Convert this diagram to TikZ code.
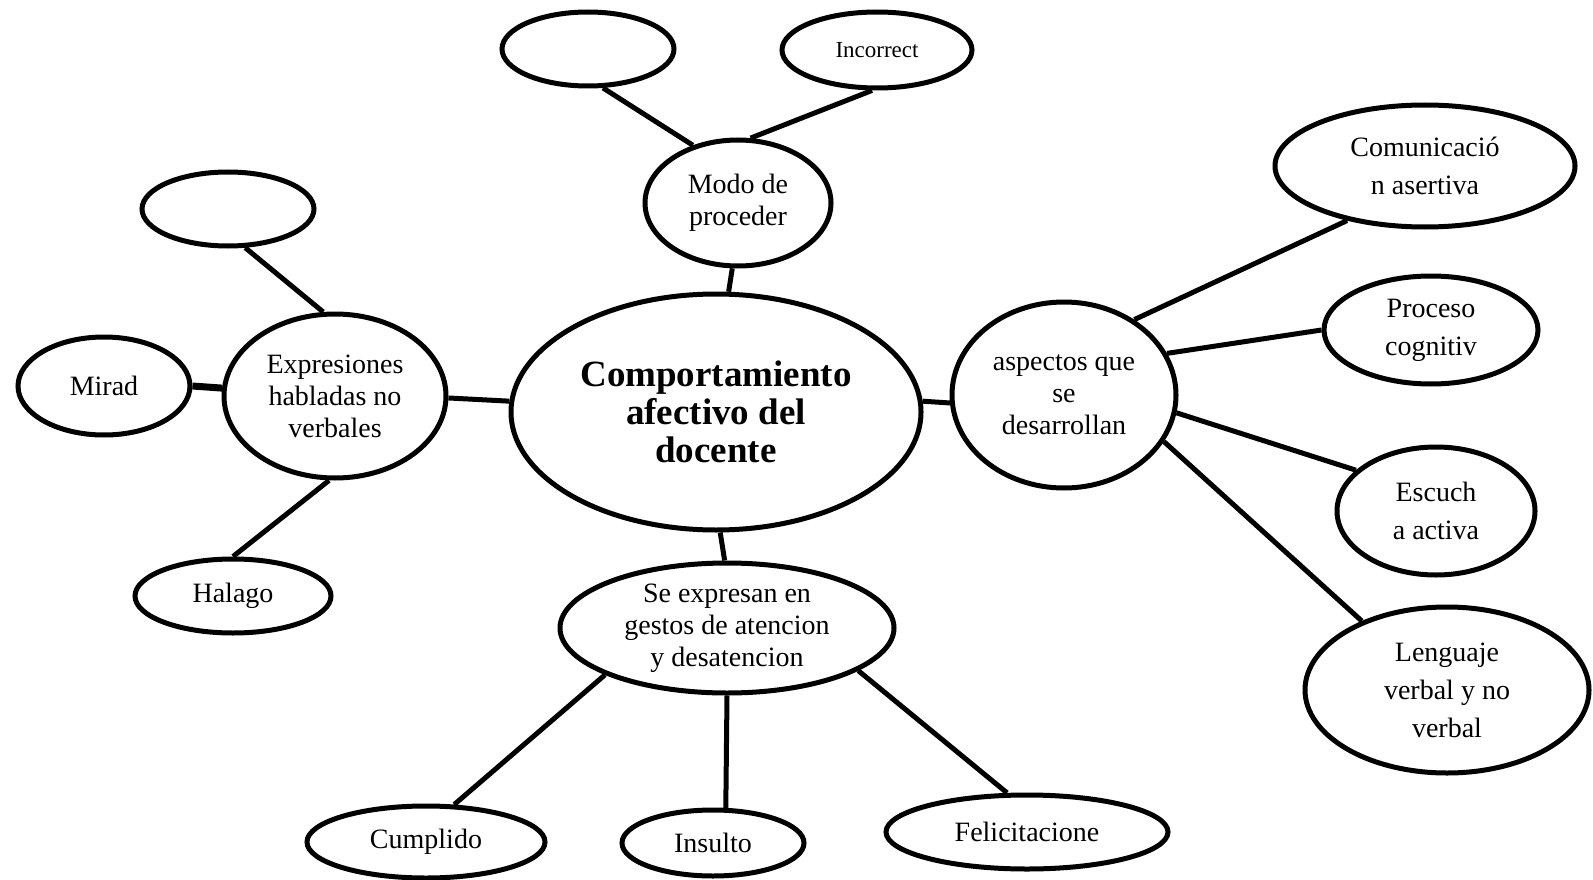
\documentclass[tikz,border=0pt]{standalone}
\usepackage{fontspec}
\setmainfont{Liberation Serif}
\usetikzlibrary{shapes.geometric}

\tikzset{
	bubble/.style={ellipse, draw, line width=5pt, inner sep=0pt, align=center,
		font=\fontsize{28}{32}\selectfont},
	wide/.style={font=\fontsize{28}{38}\selectfont},
	link/.style={line width=5pt},
}

\begin{document}
\begin{tikzpicture}[x=1pt,y=-1pt]
	\useasboundingbox (0,0) rectangle (1593,880);

	% centre
	\node[bubble, minimum width=410pt, minimum height=236pt,
		font=\fontsize{37}{38}\selectfont\bfseries] (central) at (716,412)
		{Comportamiento\\afectivo del\\docente};

	% top
	\node[bubble, minimum width=186pt, minimum height=126pt] (modo) at (738,203) {Modo de\\proceder};
	\node[bubble, minimum width=172pt, minimum height=74pt] (emptyTop) at (588,49) {};
	\node[bubble, minimum width=190pt, minimum height=76pt,
		font=\fontsize{23}{26}\selectfont] (incorrect) at (877,50) {Incorrect};

	% left
	\node[bubble, minimum width=222pt, minimum height=164pt] (expresiones) at (335,396)
		{Expresiones\\habladas no\\verbales};
	\node[bubble, minimum width=172pt, minimum height=74pt] (emptyLeft) at (228,209) {};
	\node[bubble, minimum width=172pt, minimum height=98pt] (mirad) at (104,386) {Mirad};
	\node[bubble, minimum width=196pt, minimum height=74pt] (halago) at (233,596) {Halago};

	% right
	\node[bubble, minimum width=224pt, minimum height=186pt] (aspectos) at (1064,395)
		{aspectos que\\se\\desarrollan};
	\node[bubble, wide, minimum width=300pt, minimum height=122pt] (comunicacion) at (1425,166)
		{Comunicació\\n asertiva};
	\node[bubble, wide, minimum width=214pt, minimum height=108pt] (proceso) at (1431,330)
		{Proceso\\cognitiv};
	\node[bubble, wide, minimum width=198pt, minimum height=128pt] (escucha) at (1436,511)
		{Escuch\\a activa};
	\node[bubble, wide, minimum width=284pt, minimum height=166pt] (lenguaje) at (1447,690)
		{Lenguaje\\verbal y no\\verbal};

	% bottom
	\node[bubble, minimum width=334pt, minimum height=130pt] (seexpresan) at (727,628)
		{Se expresan en\\gestos de atencion\\y desatencion};
	\node[bubble, minimum width=238pt, minimum height=72pt] (cumplido) at (426,842) {Cumplido};
	\node[bubble, minimum width=182pt, minimum height=66pt] (insulto) at (713,843) {Insulto};
	\node[bubble, minimum width=282pt, minimum height=74pt] (felicitacione) at (1027,832) {Felicitacione};

	% connectors
	\draw[link] (emptyTop.-69) -- (modo.128);
	\draw[link] (incorrect.-97) -- (modo.79);
	\draw[link] (modo.-95) -- (central.84);
	\draw[link] (central.177) -- (expresiones.-1);
	\draw[link] (central.3) -- (aspectos.-176);
	\draw[link] (central.-88) -- (seexpresan.92);

	\draw[link] (expresiones.98) -- (emptyLeft.-66);
	\draw[link, line width=7pt] (expresiones.176) -- (mirad.east);
	\draw[link] (expresiones.-94) -- (halago.north);

	\draw[link] (aspectos.47) -- (comunicacion.-145);
	\draw[link] (aspectos.22) -- (proceso.west);
	\draw[link] (aspectos.-9) -- (escucha.153);
	\draw[link] (aspectos.-25) -- (lenguaje.141);

	\draw[link] (seexpresan.-159) -- (cumplido.53);
	\draw[link] (seexpresan.south) -- (insulto.70);
	\draw[link] (seexpresan.-18) -- (felicitacione.117);
\end{tikzpicture}
\end{document}
